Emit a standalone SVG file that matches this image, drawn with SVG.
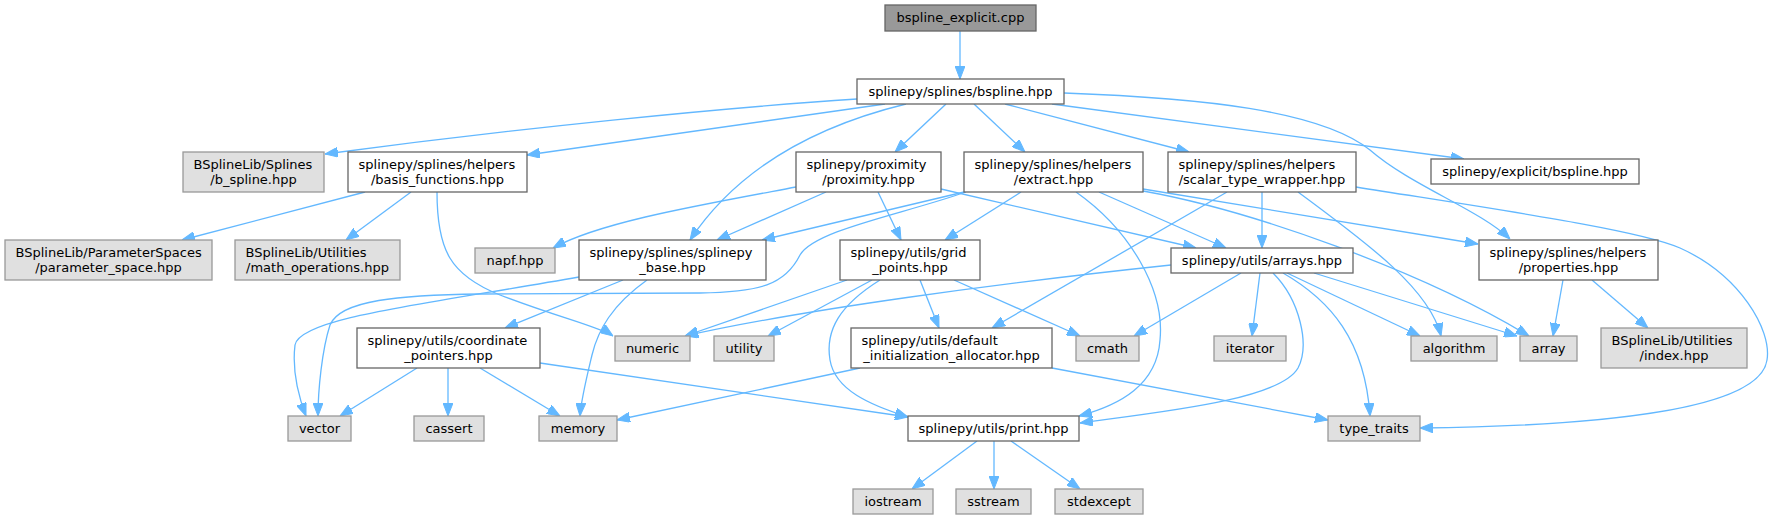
<svg xmlns="http://www.w3.org/2000/svg" width="1772" height="520" viewBox="0 0 1772 520">
<style>
text{font-family:"DejaVu Sans","Liberation Sans",sans-serif;font-size:13px;fill:#000}
.c{text-anchor:middle}
.l{text-anchor:start}
.main rect{fill:#999999;stroke:#666666;stroke-width:1.3}
.node rect{fill:#ffffff;stroke:#666666;stroke-width:1.3}
.ext rect{fill:#e0e0e0;stroke:#999999;stroke-width:1.3}
#edges path{fill:none;stroke:#63b8ff;stroke-width:1.3;marker-end:url(#ah)}
</style>
<defs>
<marker id="ah" viewBox="0 0 13 10" refX="13" refY="5" markerWidth="13" markerHeight="10" markerUnits="userSpaceOnUse" orient="auto">
<path d="M0,0 L13,5 L0,10 z" fill="#63b8ff" stroke="#63b8ff" stroke-width="1"/>
</marker>
</defs>
<rect width="1772" height="520" fill="#ffffff"/>
<g id="edges">
<path d="M960,31 L960,79"/>
<path d="M857,99 C720,108 520,128 325,154"/>
<path d="M885,104 L527,155"/>
<path d="M906,104 C820,125 740,165 690,240"/>
<path d="M946,104 L895,152"/>
<path d="M974,104 L1025,152"/>
<path d="M1005,104 L1189,152"/>
<path d="M1052,104 L1464,159"/>
<path d="M1064,93 C1200,98 1320,110 1370,150 C1410,185 1480,210 1510,239"/>
<path d="M365,192 L182,240"/>
<path d="M411,192 L346,240"/>
<path d="M437,192 C437,250 450,275 500,295 C560,318 600,327 613,336"/>
<path d="M796,187 C700,205 600,222 553,248"/>
<path d="M826,192 L717,240"/>
<path d="M878,192 L901,240"/>
<path d="M941,189 L1196,248"/>
<path d="M964,192 L762,240"/>
<path d="M966,192 C900,215 815,230 800,255 C785,285 760,292 700,293 L480,294 C400,295 340,300 330,325 C322,350 318,390 318,416"/>
<path d="M1021,192 L945,240"/>
<path d="M1099,192 L1226,248"/>
<path d="M1076,192 C1130,230 1165,290 1160,340 C1157,385 1120,405 1079,416"/>
<path d="M1143,189 L1478,244"/>
<path d="M1143,191 C1250,210 1420,270 1529,336"/>
<path d="M1227,192 L992,328"/>
<path d="M1262,192 L1262,248"/>
<path d="M1298,192 C1370,245 1430,290 1441,336"/>
<path d="M1356,187 C1500,210 1640,230 1680,248 C1740,275 1772,330 1767,360 C1760,410 1600,426 1420,428"/>
<path d="M623,280 L505,328"/>
<path d="M579,277 C420,305 300,318 295,345 C292,370 298,395 306,416"/>
<path d="M647,280 C612,305 598,330 592,355 C586,380 581,400 580,416"/>
<path d="M847,280 L685,336"/>
<path d="M872,280 L768,336"/>
<path d="M880,280 C840,305 825,330 830,360 C835,390 870,405 908,417"/>
<path d="M920,280 L939,328"/>
<path d="M954,280 L1080,336"/>
<path d="M1171,265 C1000,283 800,310 685,336"/>
<path d="M1241,273 L1134,336"/>
<path d="M1260,273 L1252,336"/>
<path d="M1273,273 C1300,300 1310,345 1298,368 C1280,400 1160,412 1080,423"/>
<path d="M1283,273 C1330,300 1365,340 1370,416"/>
<path d="M1287,273 L1420,336"/>
<path d="M1314,273 L1517,336"/>
<path d="M1563,280 L1553,336"/>
<path d="M1592,280 L1648,328"/>
<path d="M417,368 L340,416"/>
<path d="M448,368 L448,416"/>
<path d="M480,368 L560,416"/>
<path d="M540,363 L908,417"/>
<path d="M860,368 L617,420"/>
<path d="M1052,368 L1328,420"/>
<path d="M977,441 L912,489"/>
<path d="M994,441 L994,489"/>
<path d="M1011,441 L1080,489"/>
</g>
<g id="n0" class="main"><rect x="885" y="5" width="151" height="26"/><text class="c" x="960.5" y="22">bspline_explicit.cpp</text></g>
<g id="n1" class="node"><rect x="857" y="79" width="207" height="25"/><text class="c" x="960.5" y="96">splinepy/splines/bspline.hpp</text></g>
<g id="n2" class="ext"><rect x="183" y="152" width="141" height="40"/><text class="l" x="193.5" y="169">BSplineLib/Splines</text><text class="c" x="253.5" y="184">/b_spline.hpp</text></g>
<g id="n3" class="node"><rect x="348" y="152" width="179" height="40"/><text class="l" x="358.5" y="169">splinepy/splines/helpers</text><text class="c" x="437.5" y="184">/basis_functions.hpp</text></g>
<g id="n4" class="node"><rect x="796" y="152" width="145" height="40"/><text class="l" x="806.5" y="169">splinepy/proximity</text><text class="c" x="868.5" y="184">/proximity.hpp</text></g>
<g id="n5" class="node"><rect x="964" y="152" width="179" height="40"/><text class="l" x="974.5" y="169">splinepy/splines/helpers</text><text class="c" x="1053.5" y="184">/extract.hpp</text></g>
<g id="n6" class="node"><rect x="1168" y="152" width="188" height="40"/><text class="l" x="1178.5" y="169">splinepy/splines/helpers</text><text class="c" x="1262" y="184">/scalar_type_wrapper.hpp</text></g>
<g id="n7" class="node"><rect x="1431" y="159" width="208" height="25"/><text class="c" x="1535" y="176">splinepy/explicit/bspline.hpp</text></g>
<g id="n8" class="ext"><rect x="5" y="240" width="207" height="40"/><text class="l" x="15.5" y="257">BSplineLib/ParameterSpaces</text><text class="c" x="108.5" y="272">/parameter_space.hpp</text></g>
<g id="n9" class="ext"><rect x="235" y="240" width="165" height="40"/><text class="l" x="245.5" y="257">BSplineLib/Utilities</text><text class="c" x="317.5" y="272">/math_operations.hpp</text></g>
<g id="n10" class="ext"><rect x="475" y="248" width="80" height="25"/><text class="c" x="515" y="265">napf.hpp</text></g>
<g id="n11" class="node"><rect x="579" y="240" width="187" height="40"/><text class="l" x="589.5" y="257">splinepy/splines/splinepy</text><text class="c" x="672.5" y="272">_base.hpp</text></g>
<g id="n12" class="node"><rect x="840" y="240" width="140" height="40"/><text class="l" x="850.5" y="257">splinepy/utils/grid</text><text class="c" x="910" y="272">_points.hpp</text></g>
<g id="n13" class="node"><rect x="1171" y="248" width="182" height="25"/><text class="c" x="1262" y="265">splinepy/utils/arrays.hpp</text></g>
<g id="n14" class="node"><rect x="1479" y="240" width="179" height="40"/><text class="l" x="1489.5" y="257">splinepy/splines/helpers</text><text class="c" x="1568.5" y="272">/properties.hpp</text></g>
<g id="n15" class="node"><rect x="357" y="328" width="183" height="40"/><text class="l" x="367.5" y="345">splinepy/utils/coordinate</text><text class="c" x="448.5" y="360">_pointers.hpp</text></g>
<g id="n16" class="ext"><rect x="615" y="336" width="75" height="25"/><text class="c" x="652.5" y="353">numeric</text></g>
<g id="n17" class="ext"><rect x="714" y="336" width="60" height="25"/><text class="c" x="744" y="353">utility</text></g>
<g id="n18" class="node"><rect x="851" y="328" width="201" height="40"/><text class="l" x="861.5" y="345">splinepy/utils/default</text><text class="c" x="951.5" y="360">_initialization_allocator.hpp</text></g>
<g id="n19" class="ext"><rect x="1076" y="336" width="63" height="25"/><text class="c" x="1107.5" y="353">cmath</text></g>
<g id="n20" class="ext"><rect x="1214" y="336" width="72" height="25"/><text class="c" x="1250" y="353">iterator</text></g>
<g id="n21" class="ext"><rect x="1411" y="336" width="86" height="25"/><text class="c" x="1454" y="353">algorithm</text></g>
<g id="n22" class="ext"><rect x="1520" y="336" width="57" height="25"/><text class="c" x="1548.5" y="353">array</text></g>
<g id="n23" class="ext"><rect x="1601" y="328" width="146" height="40"/><text class="l" x="1611.5" y="345">BSplineLib/Utilities</text><text class="c" x="1674" y="360">/index.hpp</text></g>
<g id="n24" class="ext"><rect x="288" y="416" width="63" height="25"/><text class="c" x="319.5" y="433">vector</text></g>
<g id="n25" class="ext"><rect x="414" y="416" width="70" height="25"/><text class="c" x="449" y="433">cassert</text></g>
<g id="n26" class="ext"><rect x="539" y="416" width="78" height="25"/><text class="c" x="578" y="433">memory</text></g>
<g id="n27" class="node"><rect x="908" y="416" width="171" height="25"/><text class="c" x="993.5" y="433">splinepy/utils/print.hpp</text></g>
<g id="n28" class="ext"><rect x="1328" y="416" width="92" height="25"/><text class="c" x="1374" y="433">type_traits</text></g>
<g id="n29" class="ext"><rect x="853" y="489" width="80" height="25"/><text class="c" x="893" y="506">iostream</text></g>
<g id="n30" class="ext"><rect x="956" y="489" width="75" height="25"/><text class="c" x="993.5" y="506">sstream</text></g>
<g id="n31" class="ext"><rect x="1055" y="489" width="88" height="25"/><text class="c" x="1099" y="506">stdexcept</text></g>
</svg>
